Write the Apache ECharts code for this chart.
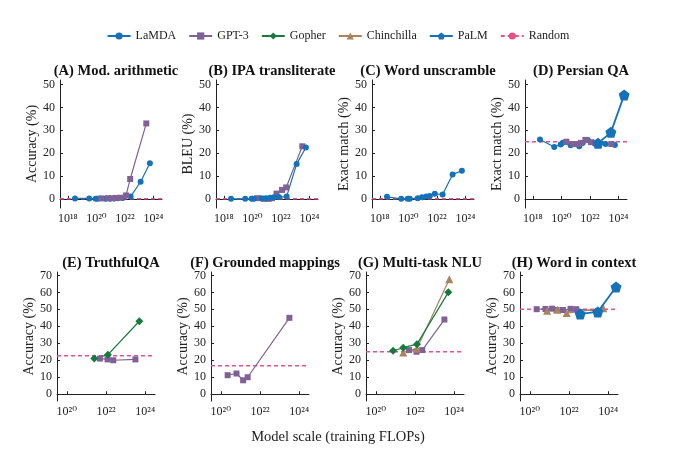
<!DOCTYPE html>
<html>
<head>
<meta charset="utf-8">
<script src="https://cdn.jsdelivr.net/npm/echarts@6.0.0/dist/echarts.min.js"></script>
<style>
html,body{margin:0;padding:0;background:#fff;}
#chart{width:676px;height:459px;}
</style>
</head>
<body>
<div id="chart"></div>
<script>
// x values are log10(training FLOPs)
const lamdaX = [18.5, 19.5, 19.95, 20.1, 20.65, 20.95, 21.25, 21.5, 21.85, 22.4, 23.1, 23.75];
const gpt3X = [20.35, 20.8, 21.14, 21.37, 21.69, 22.08, 22.37, 23.5];
const palmX = [22.57, 23.47, 24.4];

// (A) Mod. arithmetic
const modArithLaMDA = [0.2, 0.2, 0, 0, 0, 0.1, 0.2, 0.3, 0.4, 1.0, 7.5, 15.6];
const modArithGPT3 = [0.2, 0.3, 0.3, 0.4, 0.5, 1.5, 8.7, 33];
// (B) IPA transliterate
const ipaLaMDA = [0, 0, 0, 0.1, 0.3, 0.3, 0.5, 0.7, 0.8, 1.0, 15.2, 22.5];
const ipaGPT3 = [0.3, 0, 0, 0.3, 2.3, 3.9, 5.0, 23];
// (C) Word unscramble
const unscrambleLaMDA = [0.9, 0, 0, 0, 0.3, 0.7, 1.0, 1.3, 2.2, 1.9, 10.7, 12.3];
// (D) Persian QA
const persianLaMDA = [26, 22.7, 23.8, 24.5, 23.5, 24, 23, 24.6, 25.8, 24, 24, 23.6];
const persianGPT3 = [25, 24, 24, 24.5, 25.8, 24.8, 24.5, 24];
const persianPaLM = [24.3, 29.1, 45.4];
// (E) TruthfulQA
const truthfulGopherX = [21.4, 22.1, 23.7];
const truthfulGopher = [21, 23.3, 43];
const truthfulGPT3X = [21.69, 22.08, 22.37, 23.5];
const truthfulGPT3 = [21, 20.5, 20, 20.5];
// (F) Grounded mappings
const groundedGPT3X = [20.35, 20.8, 21.14, 21.37, 23.5];
const groundedGPT3 = [11.2, 12.2, 8.2, 10, 45];
// (G) Multi-task NLU
const nluGopherX = [20.88, 21.4, 22.1, 23.7];
const nluGopher = [25.6, 27.4, 29.5, 60];
const nluChinchillaX = [21.4, 22.1, 23.75];
const nluChinchilla = [24.6, 27, 67.8];
const nluGPT3X = [21.69, 22.08, 22.37, 23.5];
const nluGPT3 = [26, 25, 26, 44];
// (H) Word in context
const wicGPT3 = [50.1, 50.2, 50.4, 49.6, 49.6, 50.3, 50.1, 49];
const wicChinchillaX = [20.88, 21.4, 21.88, 23.75];
const wicChinchilla = [49.2, 49.8, 47.8, 50.6];
const wicPaLM = [47.3, 48.5, 63.2];

// random baseline per panel
const randomLevels = [0, 0, 0, 25, 22.6, 16.7, 25, 50];

const panelTitles = ['(A) Mod. arithmetic', '(B) IPA transliterate', '(C) Word unscramble', '(D) Persian QA',
	'(E) TruthfulQA', '(F) Grounded mappings', '(G) Multi-task NLU', '(H) Word in context'];
const yNames = ['Accuracy (%)', 'BLEU (%)', 'Exact match (%)', 'Exact match (%)',
	'Accuracy (%)', 'Accuracy (%)', 'Accuracy (%)', 'Accuracy (%)'];
const topXTicks = [18, 20, 22, 24];
const bottomXTicks = [20, 22, 24];
const topYTicks = [0, 10, 20, 30, 40, 50];
const bottomYTicks = [0, 10, 20, 30, 40, 50, 60, 70];

const FONT = '"Liberation Serif", "DejaVu Serif", serif';
const BLUE = '#1672b8';
const styles = {
	'LaMDA': {color: BLUE, symbol: 'circle', size: 6, width: 1.2},
	'GPT-3': {color: '#7f6196', symbol: 'rect', size: 6, width: 1.2},
	'Gopher': {color: '#167a3d', symbol: 'diamond', size: 8, width: 1.2},
	'Chinchilla': {color: '#a8845f', symbol: 'triangle', size: 8, width: 1.2},
	'PaLM': {color: BLUE, symbol: 'path://M0,-10 L9.51,-3.09 L5.88,8.09 L-5.88,8.09 L-9.51,-3.09 Z', size: 11, width: 1.8}
};

var sup = {'0':'⁰','1':'¹','2':'²','3':'³','4':'⁴','5':'⁵','6':'⁶','7':'⁷','8':'⁸','9':'⁹'};
function powLabel(v){
	return '10' + String(v).split('').map(function(c){ return sup[c]; }).join('');
}

// layout of the 8 panels
var lefts = [60, 216, 372, 525, 57, 211, 366, 520];
var grids = [], xAxes = [], yAxes = [], titles = [], series = [];
for (var i = 0; i < 8; i++) {
	var isTop = i < 4;
	grids.push({left: lefts[i], top: isTop ? 80 : 272, width: isTop ? 102 : 98, height: isTop ? 128 : 129});
	xAxes.push({
		type: 'value', gridIndex: i,
		min: isTop ? 17.45 : 19.5, max: isTop ? 24.6 : 24.5,
		splitLine: {show: false},
		axisLine: {lineStyle: {color: '#222', width: 1}},
		axisTick: {inside: true, length: 3, customValues: isTop ? topXTicks : bottomXTicks, lineStyle: {color: '#222'}},
		axisLabel: {customValues: isTop ? topXTicks : bottomXTicks, formatter: powLabel, color: '#222', fontSize: 12, fontFamily: FONT, margin: 5}
	});
	yAxes.push({
		type: 'value', gridIndex: i,
		min: -4, max: isTop ? 52 : 72,
		name: yNames[i], nameLocation: 'middle', nameGap: 16,
		nameTextStyle: {fontFamily: FONT, fontSize: 14, color: '#222'},
		splitLine: {show: false},
		axisLine: {show: true, lineStyle: {color: '#222', width: 1}},
		axisTick: {show: true, inside: true, length: 3, customValues: isTop ? topYTicks : bottomYTicks, lineStyle: {color: '#222'}},
		axisLabel: {customValues: isTop ? topYTicks : bottomYTicks, color: '#222', fontSize: 12, fontFamily: FONT, margin: 5}
	});
	titles.push({
		text: panelTitles[i], left: lefts[i] + (isTop ? 51 : 49), top: isTop ? 59 : 251, textAlign: 'center',
		textStyle: {fontFamily: FONT, fontWeight: 'bold', fontSize: 14.5, color: '#111'}
	});
	series.push({
		name: 'Random', type: 'line', xAxisIndex: i, yAxisIndex: i, symbol: 'none', silent: true, z: 1,
		data: [[xAxes[i].min, randomLevels[i]], [xAxes[i].max, randomLevels[i]]],
		lineStyle: {color: '#e8508a', type: [4, 3], width: 1.5},
		itemStyle: {color: '#e8508a'}
	});
}

function addLine(name, panel, xs, ys) {
	var s = styles[name];
	series.push({
		name: name, type: 'line', xAxisIndex: panel, yAxisIndex: panel,
		data: xs.map(function(x, k){ return [x, ys[k]]; }),
		symbol: s.symbol, symbolSize: s.size, z: name === 'PaLM' ? 5 : 3,
		itemStyle: {color: s.color},
		lineStyle: {color: s.color, width: s.width}
	});
}

addLine('LaMDA', 0, lamdaX, modArithLaMDA);
addLine('GPT-3', 0, gpt3X, modArithGPT3);
addLine('GPT-3', 1, gpt3X, ipaGPT3);
addLine('LaMDA', 1, lamdaX, ipaLaMDA);
addLine('LaMDA', 2, lamdaX, unscrambleLaMDA);
addLine('LaMDA', 3, lamdaX, persianLaMDA);
addLine('GPT-3', 3, gpt3X, persianGPT3);
addLine('PaLM', 3, palmX, persianPaLM);
addLine('GPT-3', 4, truthfulGPT3X, truthfulGPT3);
addLine('Gopher', 4, truthfulGopherX, truthfulGopher);
addLine('GPT-3', 5, groundedGPT3X, groundedGPT3);
addLine('GPT-3', 6, nluGPT3X, nluGPT3);
addLine('Chinchilla', 6, nluChinchillaX, nluChinchilla);
addLine('Gopher', 6, nluGopherX, nluGopher);
addLine('GPT-3', 7, gpt3X, wicGPT3);
addLine('Chinchilla', 7, wicChinchillaX, wicChinchilla);
addLine('PaLM', 7, palmX, wicPaLM);

var chart = echarts.init(document.getElementById('chart'), null, {renderer: 'canvas'});
chart.setOption({
	backgroundColor: '#fff',
	animation: false,
	title: titles,
	legend: {
		data: ['LaMDA', 'GPT-3', 'Gopher', 'Chinchilla', 'PaLM', 'Random'],
		top: 25, left: 'center', itemWidth: 23, itemHeight: 9, itemGap: 12,
		textStyle: {fontFamily: FONT, fontSize: 12, color: '#222'}
	},
	grid: grids,
	xAxis: xAxes,
	yAxis: yAxes,
	series: series,
	graphic: [{
		type: 'text', left: 'center', top: 430,
		style: {text: 'Model scale (training FLOPs)', font: '14.5px ' + FONT, fill: '#222'}
	}]
});
</script>
</body>
</html>
